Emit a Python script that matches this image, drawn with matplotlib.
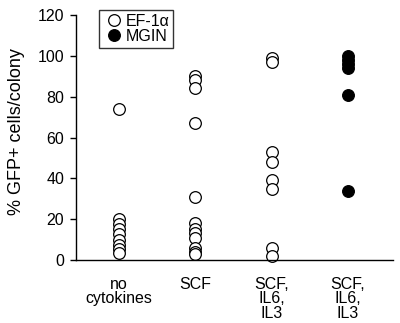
import matplotlib
matplotlib.use("Agg")
import matplotlib.pyplot as plt
from matplotlib.lines import Line2D

plt.rcParams['font.family'] = ['Liberation Sans', 'DejaVu Sans']

categories = ["no\ncytokines", "SCF", "SCF,\nIL6,\nIL3", "SCF,\nIL6,\nIL3"]
ef1a_no_cyt = [74, 20, 17.5, 15, 12.5, 10, 7.5, 5.5, 3.5]
ef1a_scf = [90, 88, 84, 67, 31, 18, 15, 13, 11, 6, 4, 3]
ef1a_scf_il6_il3 = [99, 97, 53, 48, 39, 35, 6, 2]
mgin_scf_il6_il3 = [100, 98, 96, 94, 81, 34]
yticks = [0, 20, 40, 60, 80, 100, 120]

fig = plt.figure(figsize=(4.0, 3.23), dpi=100)
ax = fig.add_axes([0.19, 0.195, 0.7925, 0.7586])

ms = 8.4
open_kw = dict(linestyle='none', marker='o', markersize=ms, markerfacecolor='white',
               markeredgecolor='black', markeredgewidth=0.9, clip_on=False)
filled_kw = dict(linestyle='none', marker='o', markersize=ms, markerfacecolor='black',
                 markeredgecolor='black', markeredgewidth=0.9, clip_on=False)

for i, vals in enumerate([ef1a_no_cyt, ef1a_scf, ef1a_scf_il6_il3]):
    ax.plot([i] * len(vals), vals, **open_kw)
ax.plot([3] * len(mgin_scf_il6_il3), mgin_scf_il6_il3, **filled_kw)

ax.set_xlim(-0.56, 3.59)
ax.set_ylim(0, 120)
ax.set_yticks(yticks)
ax.set_xticks(range(len(categories)))
ax.set_xticklabels(categories, fontsize=11.5, linespacing=0.98)
ax.tick_params(axis='x', length=0, pad=12)
ax.tick_params(axis='y', length=4, width=1.0, labelsize=11.5, pad=4.5, direction='out')
for s in ['top', 'right']:
    ax.spines[s].set_visible(False)
for s in ['left', 'bottom']:
    ax.spines[s].set_linewidth(1.0)
ax.set_ylabel("% GFP+ cells/colony", fontsize=13)
ax.yaxis.set_label_coords(-0.16, 0.525)

handles = [Line2D([], [], **open_kw), Line2D([], [], **filled_kw)]
leg = fig.legend(handles, ["EF-1\u03b1", "MGIN"], loc='upper left',
                 bbox_to_anchor=(99 / 400, 1 - 10 / 323), fontsize=11.5,
                 frameon=True, fancybox=False, borderpad=0.25, handletextpad=0.0,
                 handlelength=1.4, labelspacing=0.0, borderaxespad=0)
leg.get_frame().set_edgecolor('black')
leg.get_frame().set_linewidth(1.0)

fig.savefig("out.png", dpi=100)
